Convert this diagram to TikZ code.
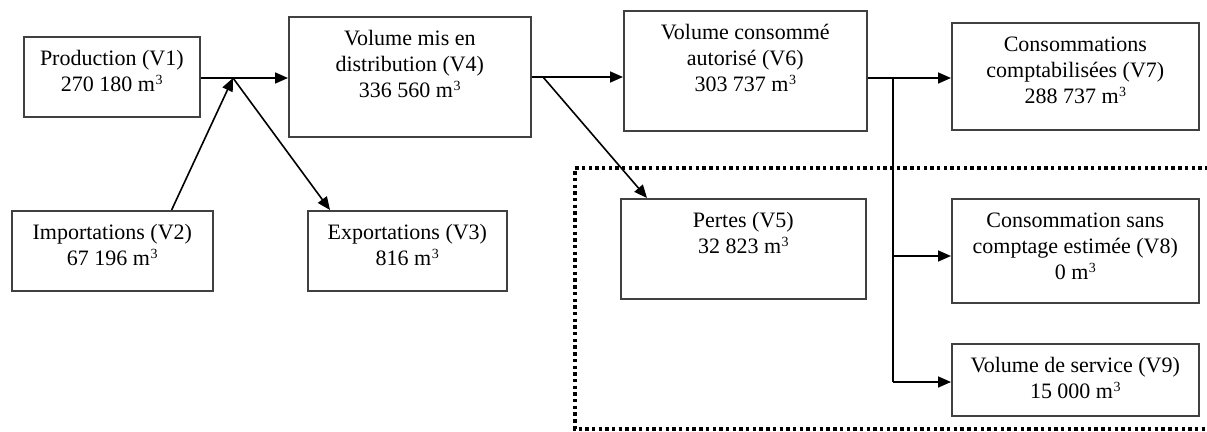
\documentclass[tikz,border=0pt]{standalone}
\usepackage{fontspec}
\setmainfont{Liberation Serif}
\usepackage{tikz}
\usetikzlibrary{arrows.meta,positioning,calc}

% texte d'une boite : largeur, hauteur, contenu (aligne en haut)
\newcommand{\boitetexte}[3]{\parbox[c][#2pt][t]{#1pt}{\centering\rule{0pt}{29pt}#3}}
% unite m3 avec petit exposant
\newcommand{\mcube}{m\kern0.5pt\raisebox{7pt}{\fontsize{14pt}{14pt}\selectfont 3}}

\begin{document}
\begin{tikzpicture}[x=1pt,y=-1pt,
    boite/.style={draw=black!75,line width=1.6pt,inner sep=0pt,anchor=north west,
      font=\fontsize{22pt}{26pt}\selectfont},
    trait/.style={line width=1.6pt},
    fleche/.style={trait,-{Triangle[length=13pt,width=11pt]}},
    pointille/.style={line width=3.4pt,dash pattern=on 3.4pt off 3.3pt}]
  \useasboundingbox (0,0) rectangle (1207,431); % cadre de l'image
  \draw[pointille] (1215,168) -- (575,168) -- (575,429) -- (1215,429); % cadre en pointilles autour des pertes et consommations
  \node[boite] (v1) at (23,36) {\boitetexte{176}{80}{Production (V1)\\270 180 \mcube}}; % production
  \node[boite] (v2) at (11,210) {\boitetexte{201}{80}{Importations (V2)\\67 196 \mcube}}; % importations
  \node[boite] (v3) at (307,210) {\boitetexte{199}{80}{Exportations (V3)\\816 \mcube}}; % exportations
  \node[boite] (v4) at (288,16) {\boitetexte{242}{120}{Volume mis en\\distribution (V4)\\336 560 \mcube}}; % volume mis en distribution
  \node[boite] (v5) at (620,198) {\boitetexte{245}{100}{Pertes (V5)\\32 823 \mcube}}; % pertes
  \node[boite] (v6) at (623,10) {\boitetexte{243}{120}{Volume consommé\\autorisé (V6)\\303 737 \mcube}}; % volume consomme autorise
  \node[boite] (v7) at (951,22) {\boitetexte{247}{107}{Consommations\\comptabilisées (V7)\\288 737 \mcube}}; % consommations comptabilisees
  \node[boite] (v8) at (951,198) {\boitetexte{247}{104}{Consommation sans\\comptage estimée (V8)\\0 \mcube}}; % consommation sans comptage
  \node[boite] (v9) at (951,343) {\boitetexte{247}{72}{Volume de service (V9)\\15 000 \mcube}}; % volume de service
  \coordinate (j1) at (233,78); % noeud de jonction V1/V2/V3/V4
  \coordinate (j2) at (543,77); % depart de la fleche vers les pertes
  \coordinate (j3) at (893,78); % depart de la ligne verticale
  \coordinate (j4) at (893,256); % branche vers V8
  \coordinate (j5) at (893,382); % branche vers V9
  \draw[trait] (v1.east |- j1) -- (j1); % production vers la jonction
  \draw[fleche] ([xshift=-42pt]v2.north east) -- (j1); % importations vers la jonction
  \draw[fleche] (j1) -- ([xshift=23pt]v3.north west); % jonction vers exportations
  \draw[fleche] (j1) -- (v4.west |- j1); % jonction vers V4
  \draw[fleche] (v4.east |- j2) -- (v6.west |- j2); % V4 vers V6
  \draw[fleche] (j2) -- ([xshift=27pt]v5.north west); % V4 vers pertes
  \draw[fleche] (v6.east |- j3) -- (v7.west |- j3); % V6 vers V7
  \draw[trait] (j3) -- (j5); % ligne verticale
  \draw[fleche] (j4) -- (v8.west |- j4); % vers V8
  \draw[fleche] (j5) -- (v9.west |- j5); % vers V9
\end{tikzpicture}
\end{document}
